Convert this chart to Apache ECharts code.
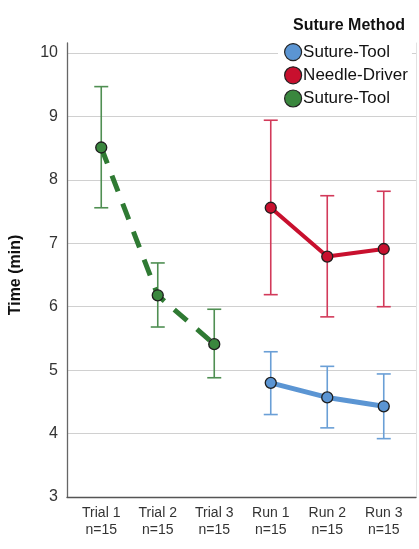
<!DOCTYPE html>
<html><head><meta charset="utf-8">
<script src="https://cdn.jsdelivr.net/npm/echarts@6/dist/echarts.min.js"></script>
<style>html,body{margin:0;padding:0;background:#fff}#c{width:419px;height:549px}</style>
</head><body><div id="c"></div>
<script>
const categories = ['Trial 1\nn=15','Trial 2\nn=15','Trial 3\nn=15','Run 1\nn=15','Run 2\nn=15','Run 3\nn=15'];
const yTicks = [3,4,5,6,7,8,9,10];
const seriesNames = ['Suture-Tool','Needle-Driver','Suture-Tool '];
// Suture-Tool (blue), runs
const blueMean = [null,null,null,4.80,4.57,4.43];
const blueLow  = [null,null,null,4.30,4.09,3.92];
const blueHigh = [null,null,null,5.29,5.06,4.94];
// Needle-Driver (red), runs
const redMean = [null,null,null,7.56,6.79,6.91];
const redLow  = [null,null,null,6.19,5.84,6.00];
const redHigh = [null,null,null,8.94,7.75,7.82];
// Suture-Tool (green), trials
const greenMean = [8.51,6.18,5.41,null,null,null];
const greenLow  = [7.56,5.68,4.88,null,null,null];
const greenHigh = [9.47,6.69,5.96,null,null,null];

const FONT = 'Liberation Sans, Arial, sans-serif';
const chart = echarts.init(document.getElementById('c'));

function errData(low, high){
  const d=[]; for(let i=0;i<low.length;i++){ if(low[i]!=null) d.push([i,low[i],high[i]]); } return d;
}
function errSeries(name, low, high, color){
  return {
    type:'custom', name:name, xAxisIndex:2, yAxisIndex:2, z:2, silent:true,
    data: errData(low, high),
    renderItem:function(params, api){
      const x = api.value(0);
      const lo = api.coord([x, api.value(1)]);
      const hi = api.coord([x, api.value(2)]);
      const w = 7;
      const st = {stroke:color, lineWidth:1.6};
      return {type:'group', children:[
        {type:'line', shape:{x1:lo[0],y1:lo[1],x2:hi[0],y2:hi[1]}, style:st},
        {type:'line', shape:{x1:lo[0]-w,y1:lo[1],x2:lo[0]+w,y2:lo[1]}, style:st},
        {type:'line', shape:{x1:hi[0]-w,y1:hi[1],x2:hi[0]+w,y2:hi[1]}, style:st}
      ]};
    }
  };
}
function lineSeries(name, data, fill, lineColor, width, type){
  return {
    type:'line', name:name, xAxisIndex:2, yAxisIndex:2, z:3, data:data,
    symbol:'circle', symbolSize:11, showSymbol:true, connectNulls:false,
    itemStyle:{color:fill, borderColor:'#1e1e1e', borderWidth:1.3},
    lineStyle:{color:lineColor, width:width, type:type||'solid'},
    emphasis:{disabled:true}
  };
}

chart.setOption({
  animation:false,
  backgroundColor:'#fff',
  textStyle:{fontFamily:FONT},
  title:{text:'Suture Method', left:288, top:13,
    textStyle:{fontFamily:FONT, fontSize:16, fontWeight:'bold', color:'#111'}},
  legend:{
    orient:'vertical', left:278, top:42, icon:'circle', itemWidth:18, itemHeight:17, itemGap:5,
    padding:[1,4,2,6], backgroundColor:'#fff',
    data:seriesNames,
    formatter:function(n){return n.trim();},
    textStyle:{fontFamily:FONT, fontSize:17, color:'#111', padding:[0,0,0,-4]},
    itemStyle:{borderColor:'#222', borderWidth:1.2}
  },
  grid:[
    {left:67, right:3, top:43, bottom:52},
    {left:67, right:3, top:53, bottom:52},
    {left:73, right:7, top:53, bottom:52}
  ],
  xAxis:[
    {gridIndex:0, type:'value', min:0, max:1, axisLine:{show:true, lineStyle:{color:'#555', width:1.3}},
      axisTick:{show:false}, axisLabel:{show:false}, splitLine:{show:false}},
    {gridIndex:1, type:'value', min:0, max:1, show:false},
    {gridIndex:2, type:'category', data:categories, boundaryGap:true,
      axisLine:{show:false}, axisTick:{show:false},
      axisLabel:{fontFamily:FONT, fontSize:14, color:'#333', lineHeight:17, margin:8, interval:0}}
  ],
  yAxis:[
    {gridIndex:0, type:'value', min:0, max:1, axisLine:{show:true, lineStyle:{color:'#666', width:1.3}},
      axisTick:{show:false}, axisLabel:{show:false}, splitLine:{show:false}},
    {gridIndex:1, type:'value', min:yTicks[0], max:yTicks[yTicks.length-1], interval:1,
      name:'Time (min)', nameLocation:'middle', nameGap:43,
      nameTextStyle:{fontFamily:FONT, fontSize:16, fontWeight:'bold', color:'#111'},
      axisLine:{show:false}, axisTick:{show:false},
      axisLabel:{fontFamily:FONT, fontSize:16, color:'#333', margin:9},
      splitLine:{show:true, lineStyle:{color:'#d0d0d0', width:1.2}}},
    {gridIndex:2, type:'value', min:yTicks[0], max:yTicks[yTicks.length-1], show:false},
    {gridIndex:0, type:'value', min:0, max:1, position:'right', axisLine:{show:true, lineStyle:{color:'#e2e2e2', width:1}},
      axisTick:{show:false}, axisLabel:{show:false}, splitLine:{show:false}}
  ],
  series:[
    errSeries('eb-blue', blueLow, blueHigh, '#6a9fd6'),
    errSeries('eb-red', redLow, redHigh, '#d23a5a'),
    errSeries('eb-green', greenLow, greenHigh, '#4f8f52'),
    lineSeries(seriesNames[0], blueMean, '#5b95d3', '#5b95d3', 5),
    lineSeries(seriesNames[1], redMean, '#c8102e', '#c8102e', 4),
    lineSeries(seriesNames[2], greenMean, '#3a873e', '#2f7a33', 5, [17,13])
  ]
});
</script></body></html>
